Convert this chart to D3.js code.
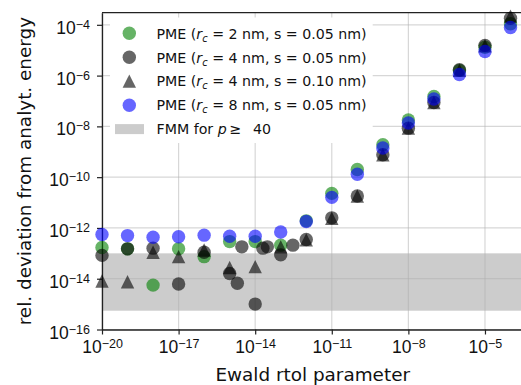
<!DOCTYPE html>
<html>
<head>
<meta charset="utf-8">
<script src="https://cdn.jsdelivr.net/npm/d3@7"></script>
<style>
  html, body { margin: 0; padding: 0; background: #fff; }
  svg { display: block; font-family: "DejaVu Sans", sans-serif; }
</style>
</head>
<body>
<svg id="chart" width="521" height="385"></svg>
<script>
// Ewald rtol values (one per decade) shared by all PME runs
const rtol = [1e-20, 1e-19, 1e-18, 1e-17, 1e-16, 1e-15, 1e-14, 1e-13, 1e-12,
              1e-11, 1e-10, 1e-9, 1e-8, 1e-7, 1e-6, 1e-5, 1e-4];

// relative deviation from the analytical energy
const pmeRc2s005 = [1.7e-13, 1.5e-13, 5.6e-15, 1.5e-13, 7.4e-14, 2.9e-13, 2.9e-13, 2.1e-13, 1.9e-12,
                    2.3e-11, 2.0e-10, 1.9e-9, 1.8e-8, 1.5e-7, 1.6e-6, 1.3e-5, 1.1e-4];
const pmeRc4s005 = [8.3e-14, 1.5e-13, 1.6e-13, 6.2e-15, 1.1e-13, 1.6e-14, 1.0e-15, 8.7e-14, 3.5e-13,
                    2.5e-12, 1.8e-11, 7.6e-10, 8.5e-9, 8.7e-8, 1.7e-6, 1.55e-5, 1.8e-4];
// extra rtol samples of the rc = 4 nm, s = 0.05 nm run
const rtolExtraRc4 = [2e-15, 3e-15, 2e-14, 3e-14, 3e-13];
const pmeRc4s005Extra = [6.6e-15, 1.8e-13, 1.6e-13, 1.8e-13, 2.1e-13];
const pmeRc4s010 = [8.1e-15, 7.6e-15, 1.1e-13, 7.4e-14, 1.35e-13, 2.75e-14, 3.0e-14, 1.8e-13, 3.4e-13,
                    2.4e-12, 1.8e-11, 7.6e-10, 8.5e-9, 8.7e-8, 1.6e-6, 1.5e-5, 2.2e-4];
const pmeRc8s005 = [5.5e-13, 5.0e-13, 4.3e-13, 4.5e-13, 5.2e-13, 4.7e-13, 4.7e-13, 6.9e-13, 1.8e-12,
                    1.6e-11, 1.3e-10, 1.4e-9, 1.35e-8, 1.2e-7, 1.1e-6, 8.9e-6, 7.8e-5];

// FMM accuracy range for multipole order p >= 40
const fmmRange = [5.5e-16, 1e-13];

const xTicks = [1e-20, 1e-17, 1e-14, 1e-11, 1e-8, 1e-5];
const yTicks = [1e-16, 1e-14, 1e-12, 1e-10, 1e-8, 1e-6, 1e-4];
const xDomain = [1e-20, 3.2e-4];
const yDomain = [1e-16, 3e-4];

const series = [
  { label: ["2", "0.05"], shape: "circle",   color: "#008000",
    points: rtol.map((r, i) => [r, pmeRc2s005[i]]) },
  { label: ["4", "0.05"], shape: "circle",   color: "#000000",
    points: rtol.map((r, i) => [r, pmeRc4s005[i]])
      .concat(rtolExtraRc4.map((r, i) => [r, pmeRc4s005Extra[i]])) },
  { label: ["4", "0.10"], shape: "triangle", color: "#000000",
    points: rtol.map((r, i) => [r, pmeRc4s010[i]]) },
  { label: ["8", "0.05"], shape: "circle",   color: "#0000ff",
    points: rtol.map((r, i) => [r, pmeRc8s005[i]]) }
];

const svg = d3.select("#chart");
const pL = 102, pR = 523.4, pT = 12.7, pB = 329.5;
const x = d3.scaleLog().domain(xDomain).range([pL, pR]);
const y = d3.scaleLog().domain(yDomain).range([pB, pT]);

const markerR = 6.7;
const alpha = 0.6;

function triPath(cx, cy, r) {
  const p = d3.path();
  p.moveTo(cx, cy - r);
  p.lineTo(cx - r, cy + r);
  p.lineTo(cx + r, cy + r);
  p.closePath();
  return p.toString();
}

// FMM band
svg.append("rect")
  .attr("x", pL).attr("width", pR - pL)
  .attr("y", y(fmmRange[1])).attr("height", y(fmmRange[0]) - y(fmmRange[1]))
  .attr("fill", "#000").attr("fill-opacity", 0.2);

// grid
const grid = svg.append("g").attr("stroke", "#b0b0b0").attr("stroke-opacity", 0.5).attr("stroke-width", 1.2);
grid.selectAll("line.gx").data(xTicks).join("line").attr("class", "gx")
  .attr("x1", d => x(d)).attr("x2", d => x(d)).attr("y1", pT).attr("y2", pB);
grid.selectAll("line.gy").data(yTicks).join("line").attr("class", "gy")
  .attr("y1", d => y(d)).attr("y2", d => y(d)).attr("x1", pL).attr("x2", pR);

// axes (ticks only; labels drawn with superscripts below)
const xAxis = svg.append("g").attr("transform", `translate(0,${pB})`)
  .call(d3.axisBottom(x).tickValues(xTicks).tickFormat(() => "").tickSize(5).tickSizeOuter(0));
const yAxis = svg.append("g").attr("transform", `translate(${pL},0)`)
  .call(d3.axisLeft(y).tickValues(yTicks).tickFormat(() => "").tickSize(5).tickSizeOuter(0));
[xAxis, yAxis].forEach(a => {
  a.select(".domain").attr("stroke", "#222").attr("stroke-width", 1.3);
  a.selectAll(".tick line").attr("stroke", "#222").attr("stroke-width", 1.2);
});
// top and right spines
svg.append("line").attr("x1", pL).attr("x2", pR).attr("y1", pT).attr("y2", pT)
  .attr("stroke", "#222").attr("stroke-width", 1.3);
svg.append("line").attr("x1", pR).attr("x2", pR).attr("y1", pT).attr("y2", pB)
  .attr("stroke", "#222").attr("stroke-width", 1.3);

const tickFont = 17.5, supFont = 12.5;
function powLabel(sel, v) {
  const e = Math.round(Math.log10(v));
  sel.append("tspan").text("10");
  sel.append("tspan").attr("font-size", supFont).attr("dy", -5).text("\u2212" + Math.abs(e));
}
xAxis.selectAll(".tick").append("text")
  .attr("fill", "#111").attr("font-size", tickFont).attr("text-anchor", "middle")
  .attr("y", 23.8).attr("x", 0)
  .each(function(d) { powLabel(d3.select(this), d); });
yAxis.selectAll(".tick").append("text")
  .attr("fill", "#111").attr("font-size", tickFont).attr("text-anchor", "end")
  .attr("x", -12).attr("y", 8.6)
  .each(function(d) { powLabel(d3.select(this), d); });

// axis titles
svg.append("text").attr("x", (pL + pR) / 2).attr("y", 380.7)
  .attr("text-anchor", "middle").attr("font-size", 18.4).attr("fill", "#111")
  .text("Ewald rtol parameter");
svg.append("text").attr("transform", `translate(30.5,${(pT + pB) / 2}) rotate(-90)`)
  .attr("text-anchor", "middle").attr("font-size", 18.4).attr("fill", "#111")
  .text("rel. deviation from analyt. energy");

// markers
const plot = svg.append("g");
series.forEach(s => {
  const g = plot.append("g").attr("fill", s.color).attr("fill-opacity", alpha);
  if (s.shape === "circle") {
    g.selectAll("circle").data(s.points).join("circle")
      .attr("cx", d => x(d[0])).attr("cy", d => y(d[1])).attr("r", markerR);
  } else {
    g.selectAll("path").data(s.points).join("path")
      .attr("d", d => triPath(x(d[0]), y(d[1]), markerR));
  }
});

// legend
const legend = svg.append("g");
legend.append("rect").attr("x", 110).attr("y", 17.5).attr("width", 262.7).attr("height", 125.5)
  .attr("fill", "#fff");
const rowY = [33.3, 57.3, 81.1, 105.2, 129.1];
const legFont = 14.2;
series.forEach((s, i) => {
  const cy = rowY[i];
  if (s.shape === "circle") {
    legend.append("circle").attr("cx", 129.3).attr("cy", cy).attr("r", markerR)
      .attr("fill", s.color).attr("fill-opacity", alpha);
  } else {
    legend.append("path").attr("d", triPath(129.3, cy, markerR))
      .attr("fill", s.color).attr("fill-opacity", alpha);
  }
  const t = legend.append("text").attr("x", 156.5).attr("y", cy + 5.2)
    .attr("font-size", legFont).attr("fill", "#111");
  t.append("tspan").text("PME (");
  t.append("tspan").attr("font-style", "italic").text("r");
  t.append("tspan").attr("font-style", "italic").attr("font-size", legFont * 0.7).attr("dy", 3).text("c");
  t.append("tspan").attr("dy", -3).text(` = ${s.label[0]} nm, s = ${s.label[1]} nm)`);
});
legend.append("rect").attr("x", 115).attr("y", rowY[4] - 5).attr("width", 29).attr("height", 10)
  .attr("fill", "#000").attr("fill-opacity", 0.2);
const ft = legend.append("text").attr("x", 156.5).attr("y", rowY[4] + 5.2)
  .attr("font-size", legFont).attr("fill", "#111");
ft.append("tspan").text("FMM for ");
ft.append("tspan").attr("font-style", "italic").text("p");
ft.append("tspan").text("\u2009\u2265\u2002 40");
</script>
</body>
</html>
